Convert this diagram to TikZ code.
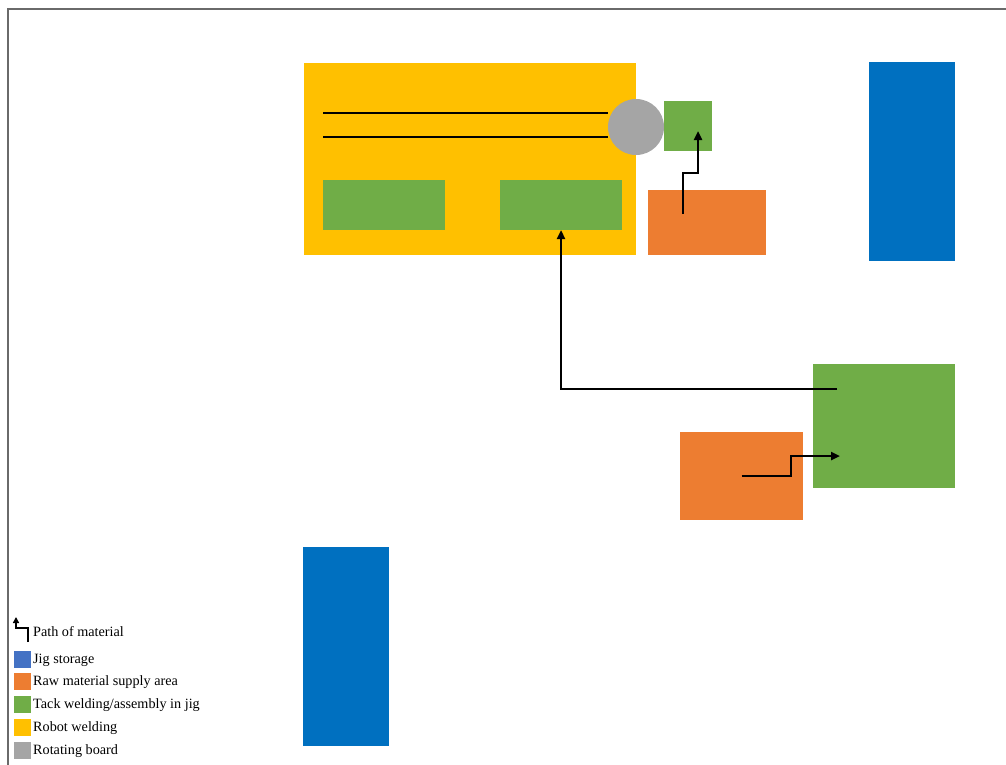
\documentclass[tikz,border=0pt]{standalone}
\usepackage{fontspec}
\setmainfont{Liberation Serif}
\usepackage{xcolor}
\usetikzlibrary{positioning,arrows.meta}

\definecolor{jigblue}{HTML}{0070C0}
\definecolor{keyblue}{HTML}{4472C4}
\definecolor{rawor}{HTML}{ED7D31}
\definecolor{tackgr}{HTML}{70AD47}
\definecolor{robotyl}{HTML}{FFC000}
\definecolor{rotgray}{HTML}{A5A5A5}
\definecolor{framegray}{HTML}{6A6A6A}

\tikzset{
  zone/.style={rectangle, inner sep=0pt, outer sep=0pt, draw=none},
  flow/.style={line width=2.4pt, -{Triangle[length=9pt,width=8pt]}},
  swatch/.style={rectangle, inner sep=0pt, outer sep=0pt, minimum size=17pt},
  keytext/.style={anchor=west, inner sep=0pt, font=\fontsize{14.2}{16}\selectfont},
}

\begin{document}
\begin{tikzpicture}[x=1pt, y=-1pt]
\useasboundingbox (0,0) rectangle (1006,764);
% frame (runs off the page to the right and bottom)
\draw[framegray, line width=1.5pt] (8,770) -- (8,9) -- (1010,9);

% robot welding cell with its two jigs and the rails
\node[zone, fill=robotyl, minimum width=332pt, minimum height=192pt] (robot) at (470,159) {};
\node[zone, fill=tackgr, minimum width=122pt, minimum height=50pt] (tackA) at (384,205) {};
\node[zone, fill=tackgr, minimum width=122pt, minimum height=50pt] (tackB) at (561,205) {};
\node[zone, circle, fill=rotgray, minimum size=56pt] (rot) at (636,127) {};
\coordinate (railA) at (323,113);
\coordinate (railB) at (323,137);
\draw[line width=2.4pt] (railA) -- (railA -| rot.west);
\draw[line width=2.4pt] (railB) -- (railB -| rot.west);

% tack welding beside the rotating board
\node[zone, fill=tackgr, minimum width=48pt, minimum height=50pt] (tackC) at (688,126) {};
\node[zone, fill=rawor, minimum width=118pt, minimum height=65pt] (rawA) at (707,222.5) {};

% jig storages
\node[zone, fill=jigblue, minimum width=86pt, minimum height=199pt] (jigA) at (912,161.5) {};
\node[zone, fill=jigblue, minimum width=86pt, minimum height=199pt] (jigB) at (346,646.5) {};

% lower cell
\node[zone, fill=tackgr, minimum width=142pt, minimum height=124pt] (tackD) at (884,426) {};
\node[zone, fill=rawor, minimum width=123pt, minimum height=88pt] (rawB) at (741.5,476) {};

% material paths
\coordinate (upA) at (683,214);
\coordinate (upB) at (698,131);
\draw[flow] (upA) -- (683,173) -- (698,173) -- (upB);
\coordinate (outD) at (837,389);
\draw[flow] (outD) -| (tackB.south);
\coordinate (inD) at (840,456);
\draw[flow] (rawB.center) -- (791,476) |- (inD);

% legend
\coordinate (keyA) at (28,642);
\coordinate (keyB) at (16,617);
\draw[line width=2pt, -{Triangle[length=6pt,width=6pt]}] (keyA) |- (16,628) -- (keyB);
\node[keytext] (keyPath) at (33,631.5) {Path of material};
\foreach \yy/\col/\lab/\nm in {659/keyblue/Jig storage/Jig,
    681/rawor/Raw material supply area/Raw,
    704/tackgr/Tack welding\slash assembly in jig/Tack,
    727/robotyl/Robot welding/Robot,
    750/rotgray/Rotating board/Rot}{
  \node[swatch, fill=\col] (sw\nm) at (22.5,\yy) {};
  \node[keytext] (key\nm) at (33,\yy+1.5) {\lab};
}
\end{tikzpicture}
\end{document}
